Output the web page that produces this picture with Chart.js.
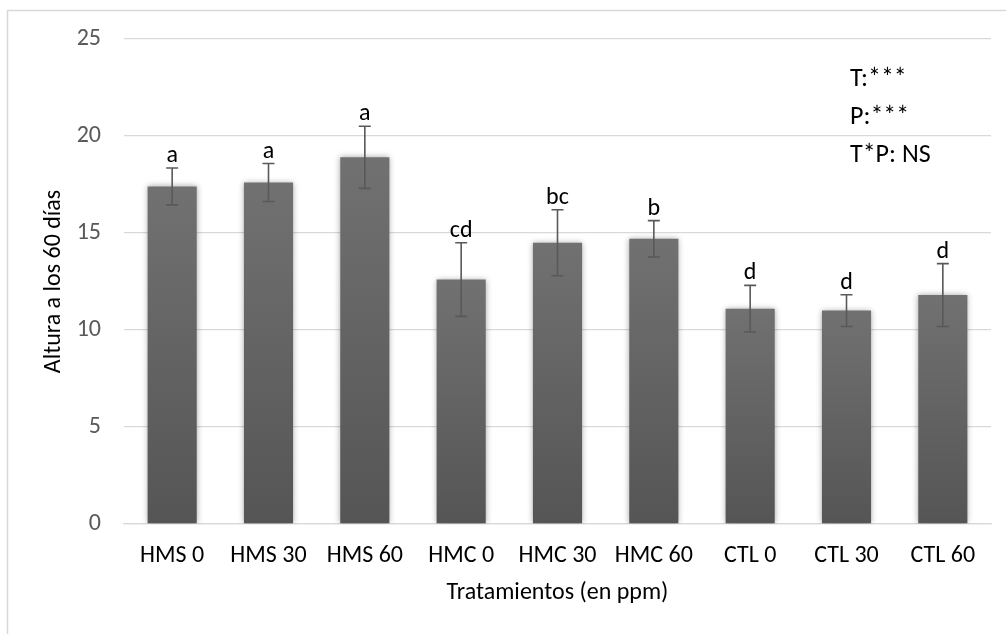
<!DOCTYPE html>
<html>
<head>
<meta charset="utf-8">
<script src="https://cdn.jsdelivr.net/npm/chart.js@4/dist/chart.umd.min.js"></script>
<style>
  html, body { margin: 0; padding: 0; background: #ffffff; }
  #wrap { position: relative; width: 1006px; height: 634px; }
  canvas { display: block; }
</style>
</head>
<body>
<div id="wrap"><canvas id="c" width="1006" height="634"></canvas></div>
<script>
// Plant height at 60 days per treatment (mean ± error)
const categories = ['HMS 0', 'HMS 30', 'HMS 60', 'HMC 0', 'HMC 30', 'HMC 60', 'CTL 0', 'CTL 30', 'CTL 60'];
const heights = [17.4, 17.6, 18.9, 12.6, 14.5, 14.7, 11.1, 11.0, 11.8];
const errors = [0.95, 0.98, 1.6, 1.9, 1.7, 0.94, 1.2, 0.82, 1.62];
const groupLetters = ['a', 'a', 'a', 'cd', 'bc', 'b', 'd', 'd', 'd'];
const yTicks = [0, 5, 10, 15, 20, 25];
const effectLines = ['T:***', 'P:***', 'T*P: NS'];

const FONT = 'Carlito, Lato, "Open Sans", sans-serif';

// Light outer frame of the chart
const framePlugin = {
  id: 'frame',
  beforeDraw(chart) {
    const ctx = chart.ctx;
    ctx.save();
    ctx.fillStyle = '#ffffff';
    ctx.fillRect(0, 0, chart.width, chart.height);
    ctx.strokeStyle = '#d9d9d9';
    ctx.lineWidth = 1.5;
    ctx.strokeRect(7.5, 10.5, chart.width + 20, chart.height + 20);
    ctx.restore();
  }
};

// Soft shadow under the bars
const shadowPlugin = {
  id: 'barShadow',
  beforeDatasetDraw(chart) {
    const ctx = chart.ctx;
    ctx.save();
    ctx.shadowColor = 'rgba(0,0,0,0.35)';
    ctx.shadowBlur = 6;
    ctx.shadowOffsetX = 0;
    ctx.shadowOffsetY = 0;
  },
  afterDatasetDraw(chart) {
    chart.ctx.restore();
  }
};

// Error bars, significance letters and the effects legend
const errorPlugin = {
  id: 'errorBars',
  afterDatasetsDraw(chart) {
    const ctx = chart.ctx;
    const y = chart.scales.y;
    const meta = chart.getDatasetMeta(0);
    ctx.save();
    ctx.strokeStyle = '#595959';
    ctx.lineWidth = 1.6;
    meta.data.forEach((bar, i) => {
      const top = y.getPixelForValue(heights[i] + errors[i]);
      const bot = y.getPixelForValue(heights[i] - errors[i]);
      const x = bar.x;
      ctx.beginPath();
      ctx.moveTo(x, top); ctx.lineTo(x, bot);
      ctx.moveTo(x - 6, top); ctx.lineTo(x + 6, top);
      ctx.moveTo(x - 6, bot); ctx.lineTo(x + 6, bot);
      ctx.stroke();
      ctx.fillStyle = '#000000';
      ctx.font = '24px ' + FONT;
      ctx.textAlign = 'center';
      ctx.textBaseline = 'alphabetic';
      ctx.fillText(groupLetters[i], x, top - 6);
    });
    ctx.font = '26px ' + FONT;
    ctx.textAlign = 'left';
    ctx.fillStyle = '#000000';
    effectLines.forEach((t, k) => {
      ctx.fillText(t, 850, 86 + k * 38);
    });
    ctx.restore();
  }
};

function barGradient(context) {
  const chart = context.chart;
  if (!chart.chartArea || !chart.scales.y) return '#666666';
  const y = chart.scales.y;
  const v = context.raw;
  const top = y.getPixelForValue(v);
  const base = y.getPixelForValue(0);
  if (!isFinite(top) || !isFinite(base) || base - top < 1) return '#666666';
  const g = chart.ctx.createLinearGradient(0, top, 0, base);
  g.addColorStop(0, '#717171');
  g.addColorStop(1, '#555555');
  return g;
}

new Chart(document.getElementById('c'), {
  type: 'bar',
  data: {
    labels: categories,
    datasets: [{
      data: heights,
      backgroundColor: barGradient,
      borderWidth: 0,
      categoryPercentage: 1.0,
      barPercentage: 0.51
    }]
  },
  options: {
    responsive: false,
    animation: false,
    devicePixelRatio: 1,
    layout: { padding: { left: 30, top: 39, right: 15, bottom: 0 } },
    plugins: {
      legend: { display: false },
      tooltip: { enabled: false }
    },
    scales: {
      x: {
        grid: { display: false, drawTicks: false },
        border: { display: true, color: '#d9d9d9', width: 1.3 },
        ticks: { color: '#000000', font: { family: FONT, size: 24 }, padding: 18, maxRotation: 0, autoSkip: false },
        title: { display: true, text: 'Tratamientos (en ppm)', color: '#000000', font: { family: FONT, size: 24 }, padding: { top: 0, bottom: 27 } },
        afterFit(scale) { scale.height = 110; }
      },
      y: {
        min: 0,
        max: 25,
        afterBuildTicks(scale) { scale.ticks = yTicks.map(v => ({ value: v })); },
        grid: { color: '#d9d9d9', lineWidth: 1.3, drawTicks: false },
        border: { display: false },
        ticks: { color: '#595959', font: { family: FONT, size: 24 }, padding: 23 },
        title: { display: true, text: 'Altura a los 60 días', color: '#000000', font: { family: FONT, size: 24 }, padding: { top: 10, bottom: 0 } },
        afterFit(scale) { scale.width = 94; }
      }
    }
  },
  plugins: [framePlugin, shadowPlugin, errorPlugin]
});
</script>
</body>
</html>
